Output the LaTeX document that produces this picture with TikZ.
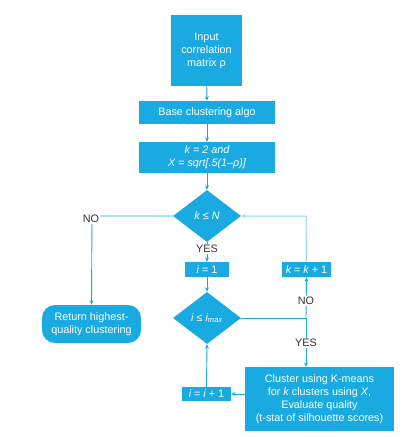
\documentclass[tikz,border=0pt]{standalone}
\usepackage{fontspec}
\setmainfont{Liberation Sans}
\usetikzlibrary{shapes.geometric,arrows.meta}
\definecolor{cblue}{HTML}{1AAAE2}
\definecolor{clight}{HTML}{8ED8F6}
\definecolor{ctext}{HTML}{333333}
\tikzset{
  box/.style={fill=cblue,text=white,inner sep=0pt,align=center,font=\fontsize{10.8}{13}\selectfont},
  dia/.style={diamond,fill=cblue,text=white,inner sep=0pt,minimum width=68pt,minimum height=52pt,font=\fontsize{10.8}{13}\selectfont},
  lbl/.style={fill=white,text=ctext,inner sep=1pt,font=\fontsize{10.8}{13}\selectfont},
  conn/.style={draw=cblue,line width=0.9pt,-{Stealth[length=4.5pt,width=4pt]}},
  connl/.style={draw=clight,line width=1pt,-{Stealth[length=4.5pt,width=4pt]}},
  lin/.style={draw=cblue,line width=0.9pt}
}
\begin{document}
\begin{tikzpicture}[x=1pt,y=-1pt]
\useasboundingbox (0,0) rectangle (415,437);
\node[box,minimum width=71pt,minimum height=71pt] (inp) at (206.5,50.5) {Input\\correlation\\matrix ρ};
\node[box,minimum width=136pt,minimum height=23pt] (base) at (207,112.5) {Base clustering algo};
\node[box,minimum width=136pt,minimum height=31pt] (init) at (207,157.5) {\itshape k = 2 and\\\itshape X = sqrt[.5(1–ρ)]};
\node[dia] (d1) at (207,216) {\itshape k ≤ N};
\node[box,minimum width=44pt,minimum height=15pt] (i1) at (207,269.5) {\itshape i\upshape\ = 1};
\node[box,minimum width=49pt,minimum height=15pt] (kk) at (306.5,269.5) {\itshape k\upshape\ = \itshape k\upshape\ + 1};
\node[dia] (d2) at (207,318) {\itshape i\upshape\ ≤ \itshape i\textsubscript{max}};
\node[box,rounded corners=13pt,minimum width=99pt,minimum height=38pt] (ret) at (91.5,324) {Return highest-\\quality clustering};
\node[box,minimum width=149pt,minimum height=64pt] (clu) at (319.5,399) {Cluster using K-means\\for \itshape k\upshape\ clusters using \itshape X\upshape,\\Evaluate quality\\(t-stat of silhouette scores)};
\node[box,minimum width=49pt,minimum height=14pt] (ii) at (206.5,394) {\itshape i\upshape\ = \itshape i\upshape\ + 1};
\coordinate (cno) at (92,216);
\coordinate (cr) at (306,318);
\coordinate (ck) at (306,216);
% connectors
\draw[conn] (inp) -- (base);
\draw[conn] (base) -- (init);
\draw[conn] (init) -- (d1);
\draw[conn] (d1.west) -- (cno) -- (ret.north);
\node[lbl] (no1) at (91,219) {NO};
\draw[conn] (d1.south) -- (i1.north);
\node[lbl] (yes1) at (207,249) {YES};
\draw[conn] (i1) -- (d2);
\draw[lin] (d2.east) -- (cr);
\draw[conn] (cr) -- (kk.south);
\draw[conn] (cr) -- (clu.north -| cr);
\node[lbl] (no2) at (306,301) {NO};
\node[lbl] (yes2) at (306,343) {YES};
\draw[connl] (kk.north) -- (ck) -- (d1.east);
\draw[conn] (clu.west |- ii) -- (ii.east);
\draw[conn] (ii.north) -- (d2.south);
\end{tikzpicture}
\end{document}
